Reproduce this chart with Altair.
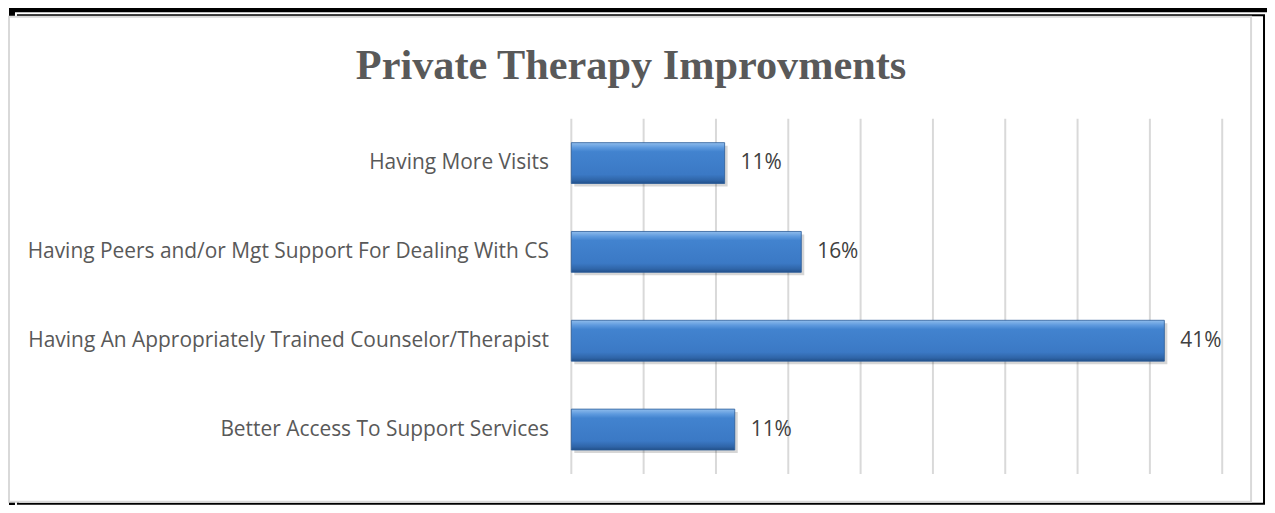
import altair as alt
import pandas as pd

categories = [
    "Having More Visits",
    "Having Peers and/or Mgt Support For Dealing With CS",
    "Having An Appropriately Trained Counselor/Therapist",
    "Better Access To Support Services",
]
values = [0.106, 0.159, 0.410, 0.113]
grid_values = [0.0, 0.05, 0.10, 0.15, 0.20, 0.25, 0.30, 0.35, 0.40, 0.45]
title_text = ["Private Therapy Improvments"]

df = pd.DataFrame({"category": categories, "value": values})
grid_df = pd.DataFrame({"g": grid_values})
one = pd.DataFrame({"t": title_text})

W, H = 654, 357
LABEL_FONT = "Open Sans"
LABEL_SIZE = 21

xscale = alt.Scale(domain=[0, 0.45], nice=False, zero=True)
yscale = alt.Scale(domain=categories, paddingInner=0.54, paddingOuter=0.27)


def frame_rect(x1, y1, x2, y2, fill, stroke=None, sw=0):
    kw = dict(fill=fill)
    if stroke:
        kw.update(stroke=stroke, strokeWidth=sw)
    return alt.Chart(one).mark_rect(**kw).encode(
        x=alt.value(x1), x2=alt.value(x2), y=alt.value(y1), y2=alt.value(y2)
    )


frame = (
    frame_rect(-565, -114, 704, 395, "#000000")
    + frame_rect(-559, -107, 699, 389.5, "#ffffff")
    + frame_rect(-557, -105, 697, 388, "#000000")
    + frame_rect(-555, -103, 695, 386, "#ffffff")
    + frame_rect(-565, -102.5, 683, 385, "#ffffff", "#d9d9d9", 2)
)

title = alt.Chart(one).mark_text(
    font="Liberation Serif", fontWeight="bold", fontSize=42.5, color="#595959",
    align="center", baseline="alphabetic"
).encode(x=alt.value(60), y=alt.value(-40), text="t:N")

grid = alt.Chart(grid_df).mark_rule(color="#d9d9d9", strokeWidth=2).encode(
    x=alt.X("g:Q", scale=xscale, axis=None)
)

yenc = alt.Y(
    "category:N", scale=yscale, sort=categories,
    axis=alt.Axis(title=None, ticks=False, domain=False, grid=False,
                  labelFont=LABEL_FONT, labelFontSize=LABEL_SIZE, labelColor="#595959",
                  labelPadding=23, labelLimit=0, zindex=1),
)

shadow = alt.Chart(df).mark_bar(color="#000000", opacity=0.16, xOffset=3, yOffset=3).encode(
    x=alt.X("value:Q", scale=xscale, axis=None), y=yenc
)

bar_grad = alt.Gradient(
    gradient="linear", x1=0, x2=0, y1=0, y2=1,
    stops=[
        alt.GradientStop(offset=0, color="#8fbcec"),
        alt.GradientStop(offset=0.12, color="#5e9ade"),
        alt.GradientStop(offset=0.22, color="#4283cf"),
        alt.GradientStop(offset=0.78, color="#3b79c5"),
        alt.GradientStop(offset=0.92, color="#2f65a8"),
        alt.GradientStop(offset=1, color="#22508a"),
    ],
)

bars = alt.Chart(df).mark_bar(color=bar_grad, stroke="#2a5b98", strokeWidth=0.8).encode(
    x=alt.X("value:Q", scale=xscale, axis=None), y=yenc
)

labels = alt.Chart(df).mark_text(
    align="left", baseline="middle", dx=16, font=LABEL_FONT, fontSize=LABEL_SIZE, color="#404040"
).encode(
    x=alt.X("value:Q", scale=xscale, axis=None), y=yenc,
    text=alt.Text("value:Q", format=".0%"),
)

chart = alt.layer(frame, title, grid, shadow, bars, labels).properties(
    width=W, height=H,
    autosize=alt.AutoSizeParams(type="none"),
    padding={"left": 566, "top": 110, "right": 45, "bottom": 30},
    background="#ffffff",
).configure_view(stroke=None)

chart.save("out.html", embed_options={"renderer": "svg", "actions": False})
